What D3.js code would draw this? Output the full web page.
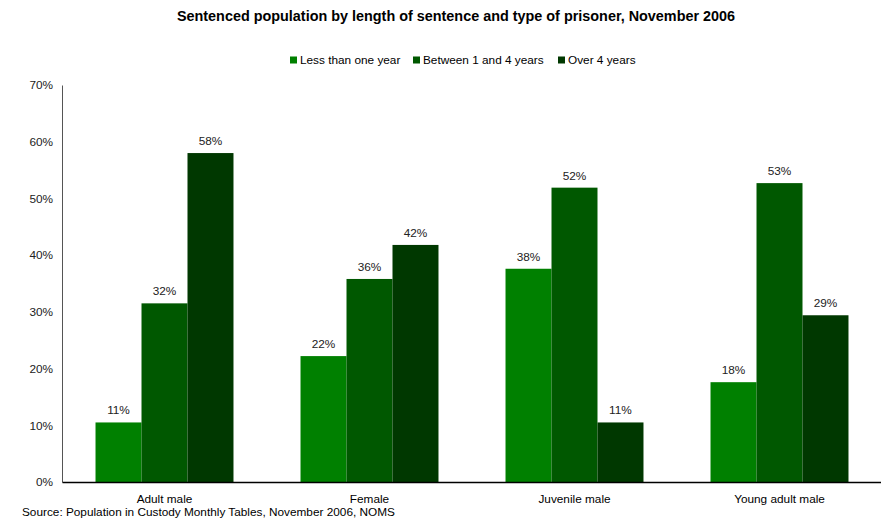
<!DOCTYPE html>
<html><head><meta charset="utf-8">
<script src="https://cdn.jsdelivr.net/npm/d3@7"></script>
<style>body{margin:0;background:#fff}svg{display:block;font-family:"Liberation Sans",Arial,sans-serif}</style>
</head><body><svg id="c" width="881" height="522"></svg>
<script>
const categories = ["Adult male", "Female", "Juvenile male", "Young adult male"];
const seriesNames = ["Less than one year", "Between 1 and 4 years", "Over 4 years"];
const lessThanOne = [10.5, 22.2, 37.6, 17.6];
const oneToFour = [31.5, 35.8, 51.9, 52.7];
const overFour = [58.0, 41.8, 10.5, 29.4];
const yTicks = [0, 10, 20, 30, 40, 50, 60, 70];
const colors = ["#008000", "#005800", "#003800"];
const seriesValues = [lessThanOne, oneToFour, overFour];

const svg = d3.select("#c");
const mLeft = 62, mRight = 882, mTop = 85, mBottom = 482;
const fs = 11.8;

const x = d3.scaleBand().domain(categories).range([mLeft, mRight]).paddingInner(0.327).paddingOuter(0.1635);
const xs = d3.scaleBand().domain(d3.range(3)).range([0, x.bandwidth()]);
const y = d3.scaleLinear().domain([0, 70]).range([mBottom, mTop]);

svg.append("text").attr("x", 456).attr("y", 21).attr("text-anchor", "middle")
  .attr("font-size", 14.4).attr("font-weight", "bold").attr("fill", "#000")
  .text("Sentenced population by length of sentence and type of prisoner, November 2006");

// legend
const legX = [290, 413, 558];
seriesNames.forEach((s, i) => {
  svg.append("rect").attr("x", legX[i]).attr("y", 56.5).attr("width", 7).attr("height", 7).attr("fill", colors[i]);
  svg.append("text").attr("x", legX[i] + 10).attr("y", 63.5).attr("font-size", fs).attr("fill", "#000").text(s);
});

// y axis
const yAxis = d3.axisLeft(y).tickValues(yTicks).tickSize(0).tickPadding(9).tickFormat(d => d + "%");
const gy = svg.append("g").attr("transform", `translate(${mLeft},0)`).call(yAxis);
gy.select(".domain").attr("stroke", "#555").attr("stroke-width", 1);
gy.selectAll("text").attr("font-size", fs).attr("fill", "#222").attr("font-family", "Liberation Sans, Arial, sans-serif");

// bars
categories.forEach((c, ci) => {
  seriesValues.forEach((vals, si) => {
    const v = vals[ci];
    const bx = x(c) + xs(si);
    svg.append("rect").attr("x", bx).attr("y", y(v)).attr("width", xs.bandwidth()).attr("height", mBottom - y(v)).attr("fill", colors[si]);
    svg.append("text").attr("x", bx + xs.bandwidth() / 2).attr("y", y(v) - 8)
      .attr("text-anchor", "middle").attr("font-size", fs).attr("fill", "#222").text(Math.round(v) + "%");
  });
});

// x axis
const xAxis = d3.axisBottom(x).tickSize(0).tickPadding(13);
const gx = svg.append("g").attr("transform", `translate(0,${mBottom})`).call(xAxis);
gx.select(".domain").attr("stroke", "#000").attr("stroke-width", 1.5);
gx.selectAll("text").attr("font-size", fs).attr("fill", "#000").attr("font-family", "Liberation Sans, Arial, sans-serif");

svg.append("text").attr("x", 22).attr("y", 516).attr("font-size", fs).attr("fill", "#000")
  .text("Source: Population in Custody Monthly Tables, November 2006, NOMS");
</script></body></html>
